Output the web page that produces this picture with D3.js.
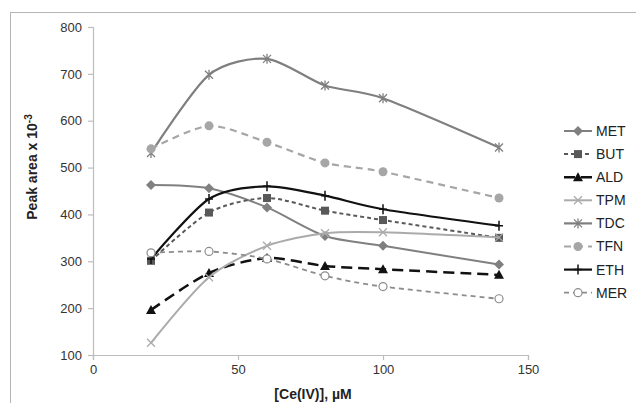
<!DOCTYPE html>
<html><head><meta charset="utf-8">
<script src="https://cdn.jsdelivr.net/npm/d3@7/dist/d3.min.js"></script>
<style>
html,body{margin:0;padding:0;background:#fff;}
svg{display:block;font-family:"Liberation Sans",Arial,sans-serif;}
</style></head>
<body>
<svg id="chart" width="636" height="403"></svg>
<script>
const concentrations = [20, 40, 60, 80, 100, 140];
const seriesNames = ["MET", "BUT", "ALD", "TPM", "TDC", "TFN", "ETH", "MER"];
const MET = [463, 456, 415, 354, 333, 293];
const BUT = [301, 404, 435, 408, 388, 350];
const ALD = [196, 275, 307, 290, 283, 271];
const TPM = [126, 266, 333, 360, 362, 351];
const TDC = [531, 698, 732, 675, 648, 543];
const TFN = [540, 589, 554, 510, 491, 435];
const ETH = [305, 433, 460, 440, 411, 376];
const MER = [318, 321, 305, 269, 246, 220];
const xTicks = [0, 50, 100, 150];
const yTicks = [100, 200, 300, 400, 500, 600, 700, 800];

const values = {MET, BUT, ALD, TPM, TDC, TFN, ETH, MER};
const styles = {
  MET: {color:"#808080", width:2, dash:null, marker:"diamond"},
  BUT: {color:"#595959", width:2, dash:"4,3", marker:"square"},
  ALD: {color:"#111111", width:2.5, dash:"11,6", marker:"triangle"},
  TPM: {color:"#ababab", width:2, dash:null, marker:"x"},
  TDC: {color:"#7f7f7f", width:2.2, dash:null, marker:"star"},
  TFN: {color:"#a6a6a6", width:2.2, dash:"7,5", marker:"circle"},
  ETH: {color:"#111111", width:2.2, dash:null, marker:"plus"},
  MER: {color:"#8c8c8c", width:1.8, dash:"5,4", marker:"ocircle"}
};

const svg = d3.select("#chart");
// outer frame
svg.append("rect").attr("x",10.5).attr("y",12.5).attr("width",700).attr("height",500)
  .attr("fill","#fff").attr("stroke","#b5b5b5").attr("stroke-width",1);

const x = d3.scaleLinear().domain([0,150]).range([93,528]);
const y = d3.scaleLinear().domain([100,800]).range([355,27]);

const axisColor = "#bdbdbd";
const gx = svg.append("g").attr("transform","translate(0,355)")
  .call(d3.axisBottom(x).tickValues(xTicks).tickSize(5).tickPadding(5).tickFormat(d3.format("d")));
const gy = svg.append("g").attr("transform","translate(93,0)")
  .call(d3.axisLeft(y).tickValues(yTicks).tickSize(5).tickPadding(6).tickFormat(d3.format("d")));
[gx,gy].forEach(g=>{
  g.select(".domain").attr("stroke",axisColor).attr("stroke-width",1.2);
  g.selectAll(".tick line").attr("stroke",axisColor).attr("stroke-width",1.2);
  g.selectAll(".tick text").attr("fill","#333").style("font-size","13px")
    .style("font-family","'Liberation Sans',Arial,sans-serif");
});

// axis titles
svg.append("text").attr("x",313).attr("y",399).attr("text-anchor","middle")
  .style("font-size","14px").style("font-weight","bold").attr("fill","#222")
  .text("[Ce(IV)], µM");
const yt = svg.append("text").attr("transform","translate(37,167) rotate(-90)")
  .attr("text-anchor","middle").style("font-size","14px").style("font-weight","bold").attr("fill","#222");
yt.append("tspan").text("Peak area x 10");
yt.append("tspan").attr("dy",-5).style("font-size","10px").text("-3");

function drawMarker(g, type, cx, cy, color){
  const s = 4;
  switch(type){
    case "diamond":
      g.append("path").attr("d",`M${cx},${cy-s-1}L${cx+s+1},${cy}L${cx},${cy+s+1}L${cx-s-1},${cy}Z`).attr("fill",color);
      break;
    case "square":
      g.append("rect").attr("x",cx-s).attr("y",cy-s).attr("width",2*s).attr("height",2*s).attr("fill",color);
      break;
    case "triangle":
      g.append("path").attr("d",`M${cx},${cy-s-1}L${cx+s+1},${cy+s}L${cx-s-1},${cy+s}Z`).attr("fill",color);
      break;
    case "x":
      g.append("path").attr("d",`M${cx-s},${cy-s}L${cx+s},${cy+s}M${cx-s},${cy+s}L${cx+s},${cy-s}`)
        .attr("stroke",color).attr("stroke-width",1.3).attr("fill","none");
      break;
    case "star":
      g.append("path").attr("d",`M${cx-s},${cy-s}L${cx+s},${cy+s}M${cx-s},${cy+s}L${cx+s},${cy-s}M${cx},${cy-s-1}L${cx},${cy+s+1}`)
        .attr("stroke",color).attr("stroke-width",1.3).attr("fill","none");
      break;
    case "circle":
      g.append("circle").attr("cx",cx).attr("cy",cy).attr("r",s+0.5).attr("fill",color);
      break;
    case "plus":
      g.append("path").attr("d",`M${cx},${cy-s-1}L${cx},${cy+s+1}M${cx-s},${cy}L${cx+s},${cy}`)
        .attr("stroke",color).attr("stroke-width",1.5).attr("fill","none");
      break;
    case "ocircle":
      g.append("circle").attr("cx",cx).attr("cy",cy).attr("r",s).attr("fill","#fff")
        .attr("stroke",color).attr("stroke-width",1.2);
      break;
  }
}

const line = d3.line().x(d=>x(d[0])).y(d=>y(d[1])).curve(d3.curveCardinal.tension(0.2));
const plot = svg.append("g");
seriesNames.forEach(name=>{
  const st = styles[name];
  const pts = concentrations.map((c,i)=>[c, values[name][i]]);
  const g = plot.append("g");
  g.append("path").attr("d",line(pts)).attr("fill","none").attr("stroke",st.color)
    .attr("stroke-width",st.width).attr("stroke-dasharray",st.dash);
  pts.forEach(p=>drawMarker(g, st.marker, x(p[0]), y(p[1]), st.color));
});

// legend
const leg = svg.append("g");
seriesNames.forEach((name,i)=>{
  const st = styles[name];
  const ly = 131 + i*23.1;
  const g = leg.append("g");
  g.append("line").attr("x1",564).attr("x2",592).attr("y1",ly).attr("y2",ly)
    .attr("stroke",st.color).attr("stroke-width",st.width).attr("stroke-dasharray",st.dash);
  drawMarker(g, st.marker, 578, ly, st.color);
  g.append("text").attr("x",596).attr("y",ly).attr("dy","0.35em")
    .style("font-size","14px").attr("fill","#222").text(name);
});
</script>
</body></html>
